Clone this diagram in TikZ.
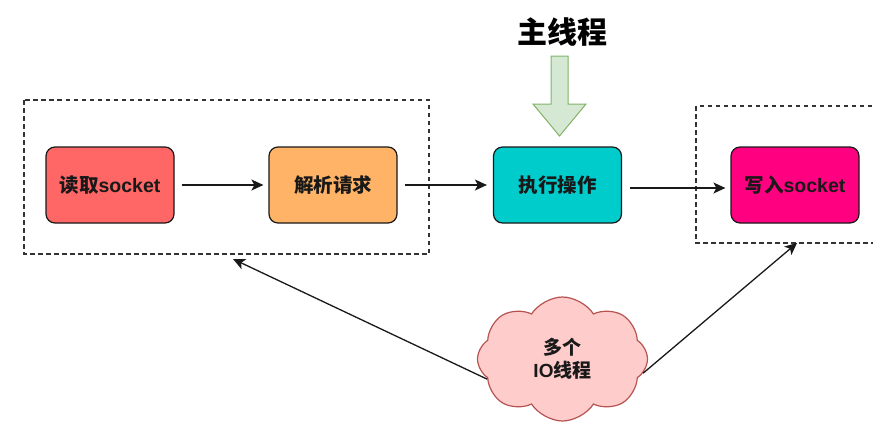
\documentclass[tikz,border=0pt]{standalone}
\usepackage{fontspec}
\newfontfamily\cjk{Noto Sans CJK SC}
\newfontfamily\lat{Liberation Sans}
\usetikzlibrary{arrows.meta,shapes.symbols}
\definecolor{cred}{HTML}{FF6666}
\definecolor{corange}{HTML}{FFB366}
\definecolor{cteal}{HTML}{00CCCC}
\definecolor{cpink}{HTML}{FF0080}
\definecolor{cloudfill}{HTML}{FFCCCC}
\definecolor{clouddraw}{HTML}{B85450}
\definecolor{gfill}{HTML}{D5E8D4}
\definecolor{gdraw}{HTML}{82B366}
\begin{document}
\begin{tikzpicture}[x=1pt,y=-1pt,
  proc/.style={draw=black!90, line width=1.2pt, rounded corners=9pt,
    minimum width=128pt, minimum height=76pt, inner sep=0pt,
    font=\cjk\bfseries\fontsize{19.5}{23}\selectfont, text=black!90},
  grp/.style={draw=black!80, line width=1.2pt, dash pattern=on 4.5pt off 3.5pt},
  conn/.style={line width=1.3pt, draw=black!90,
    -{Stealth[length=12pt,width=11pt,inset=3pt]}}]
\useasboundingbox (0,0) rectangle (873,432);
\fill[white] (0,0) rectangle (873,432);

% dashed group boxes
\draw[grp] (24,100) rectangle (429,254);
\draw[grp] (880,106) -- (696,106) -- (696,243) -- (880,243);

% process boxes
\node[proc, fill=cred] (read) at (110,185) {读取{\lat\bfseries socket}};
\node[proc, fill=corange] (parse) at (333,185) {解析请求};
\node[proc, fill=cteal] (exec) at (557.5,185) {执行操作};
\node[proc, fill=cpink] (write) at (795,185) {写入{\lat\bfseries socket}};

% connectors
\draw[conn, shorten <=7pt, shorten >=5pt] (read.east) -- (parse.west);
\draw[conn, shorten <=7pt, shorten >=6pt] (parse.east) -- (exec.west);
\draw[conn, shorten <=8pt, shorten >=5pt] ([yshift=-3pt]exec.east) -- ([yshift=-3pt]write.west);

% main thread title and green arrow
\node[font=\cjk\bfseries\fontsize{30}{36}\selectfont, text=black] (title) at (562,32) {主线程};
\draw[fill=gfill, draw=gdraw, line width=1pt, line join=miter]
  (551,56) -- (568,56) -- (568,104) -- (586,104) -- (559.5,136) -- (533,104) -- (551,104) -- cycle;

% cloud
\node[cloud, cloud puffs=8, cloud puff arc=115, aspect=1.4,
  minimum width=170pt, minimum height=124pt, inner sep=0pt,
  fill=cloudfill, draw=clouddraw, line width=1.2pt,
  font=\cjk\bfseries\fontsize{19}{23}\selectfont, align=center, text=black!90]
  (io) at (562.5,359) {多个\\{\lat\bfseries IO}线程};

\coordinate (lt) at (233,259);
\coordinate (rt) at (797,243);
\draw[conn] (io.195) -- (lt);
\draw[conn] (io.350) -- (rt);
\end{tikzpicture}
\end{document}
